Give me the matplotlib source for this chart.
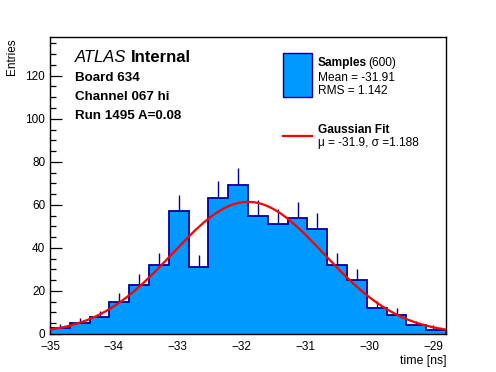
import numpy as np
import matplotlib
matplotlib.use("Agg")
import matplotlib.pyplot as plt
from matplotlib.patches import Rectangle
from matplotlib.lines import Line2D
from matplotlib.ticker import MultipleLocator

# ---- data ----
x_min, x_max = -35.0, -28.8
n_bins = 20
counts = [3, 5, 8, 15, 23, 32, 57, 31, 63, 69,
          55, 51, 54, 49, 32, 25, 12, 9, 4, 2]
fit_mu = -31.9
fit_sigma = 1.188
fit_amp = 61.4
n_samples = 600
mean_val = -31.91
rms_val = 1.142
y_max = 138

plt.rcParams['font.family'] = ['Liberation Sans', 'DejaVu Sans']

W, H = 496, 372
fig = plt.figure(figsize=(W / 100, H / 100), dpi=100)
ax = fig.add_axes([50 / W, 1 - 334 / H, 396 / W, 297 / H])

edges = np.linspace(x_min, x_max, n_bins + 1)
centers = 0.5 * (edges[:-1] + edges[1:])
counts_arr = np.array(counts, dtype=float)

fill_c = '#0099ff'
edge_c = '#000099'

# error bars (upper half visible above the fill)
ax.vlines(centers, counts_arr - np.sqrt(counts_arr), counts_arr + np.sqrt(counts_arr),
          color=edge_c, lw=1.0, zorder=1)
ax.stairs(counts_arr, edges, fill=True, color=fill_c, zorder=2)
ax.stairs(counts_arr, edges, fill=False, color=edge_c, lw=1.3, baseline=0, zorder=3)

xs = np.linspace(x_min, x_max, 400)
ax.plot(xs, fit_amp * np.exp(-0.5 * ((xs - fit_mu) / fit_sigma) ** 2),
        color='#ff0000', lw=1.6, zorder=4)

ax.set_xlim(x_min, x_max)
ax.set_ylim(0, y_max)
ax.xaxis.set_major_locator(MultipleLocator(1))
ax.xaxis.set_minor_locator(MultipleLocator(0.2))
ax.yaxis.set_major_locator(MultipleLocator(20))
ax.yaxis.set_minor_locator(MultipleLocator(5))
ax.tick_params(axis='both', which='both', direction='in', top=False, right=False,
               labelsize=8.5, width=0.9, colors='black')
ax.tick_params(axis='x', which='major', length=6.4, pad=4.9)
ax.tick_params(axis='x', which='minor', length=3.2)
ax.tick_params(axis='y', which='major', length=8.3, pad=3.5)
ax.tick_params(axis='y', which='minor', length=4.2)
for s in ax.spines.values():
    s.set_linewidth(1.0)

fig.text(446 / W, 1 - 355 / H, 'time [ns]', ha='right', va='top', fontsize=8.8)
fig.text(12 / W, 1 - 38 / H, 'Entries', ha='center', va='top', rotation=90, fontsize=8.5)

def fx(px):
    return px / W

def fy(py):
    return 1 - py / H

# ATLAS label
t = fig.text(fx(75), fy(62.3), 'ATLAS', fontsize=12, style='italic', ha='left', va='baseline')
fig.canvas.draw()
bb = t.get_window_extent()
fig.text(bb.x1 / W + 4 / W, fy(62.3), 'Internal', fontsize=12, weight='bold', ha='left', va='baseline')
fig.text(fx(75), fy(81), 'Board 634', fontsize=9.6, weight='bold', ha='left', va='baseline')
fig.text(fx(75), fy(100.5), 'Channel 067 hi', fontsize=9.6, weight='bold', ha='left', va='baseline')
fig.text(fx(75), fy(119), 'Run 1495 A=0.08', fontsize=9.6, weight='bold', ha='left', va='baseline')

# legend
fig.patches.append(Rectangle((fx(283), fy(97)), 29 / W, 44 / H, transform=fig.transFigure,
                             facecolor=fill_c, edgecolor=edge_c, lw=1.0))
t2 = fig.text(fx(317.5), fy(65.7), 'Samples', fontsize=8.6, weight='bold', ha='left', va='baseline')
fig.canvas.draw()
bb2 = t2.get_window_extent()
fig.text(bb2.x1 / W + 2 / W, fy(65.7), f'({n_samples})', fontsize=8.6, ha='left', va='baseline')
fig.text(fx(317.5), fy(80.7), f'Mean = {mean_val:.2f}', fontsize=8.6, ha='left', va='baseline')
fig.text(fx(317.5), fy(94), f'RMS = {rms_val:.3f}', fontsize=8.6, ha='left', va='baseline')
fig.lines.append(Line2D([fx(283), fx(312)], [fy(136), fy(136)], transform=fig.transFigure,
                        color='#ff0000', lw=1.6))
fig.text(fx(317.5), fy(132.7), 'Gaussian Fit', fontsize=8.6, weight='bold', ha='left', va='baseline')
fig.text(fx(317.5), fy(146), f'\u03bc = {fit_mu}, \u03c3 ={fit_sigma}', fontsize=8.6, ha='left', va='baseline')

fig.savefig('out.png', dpi=100)
